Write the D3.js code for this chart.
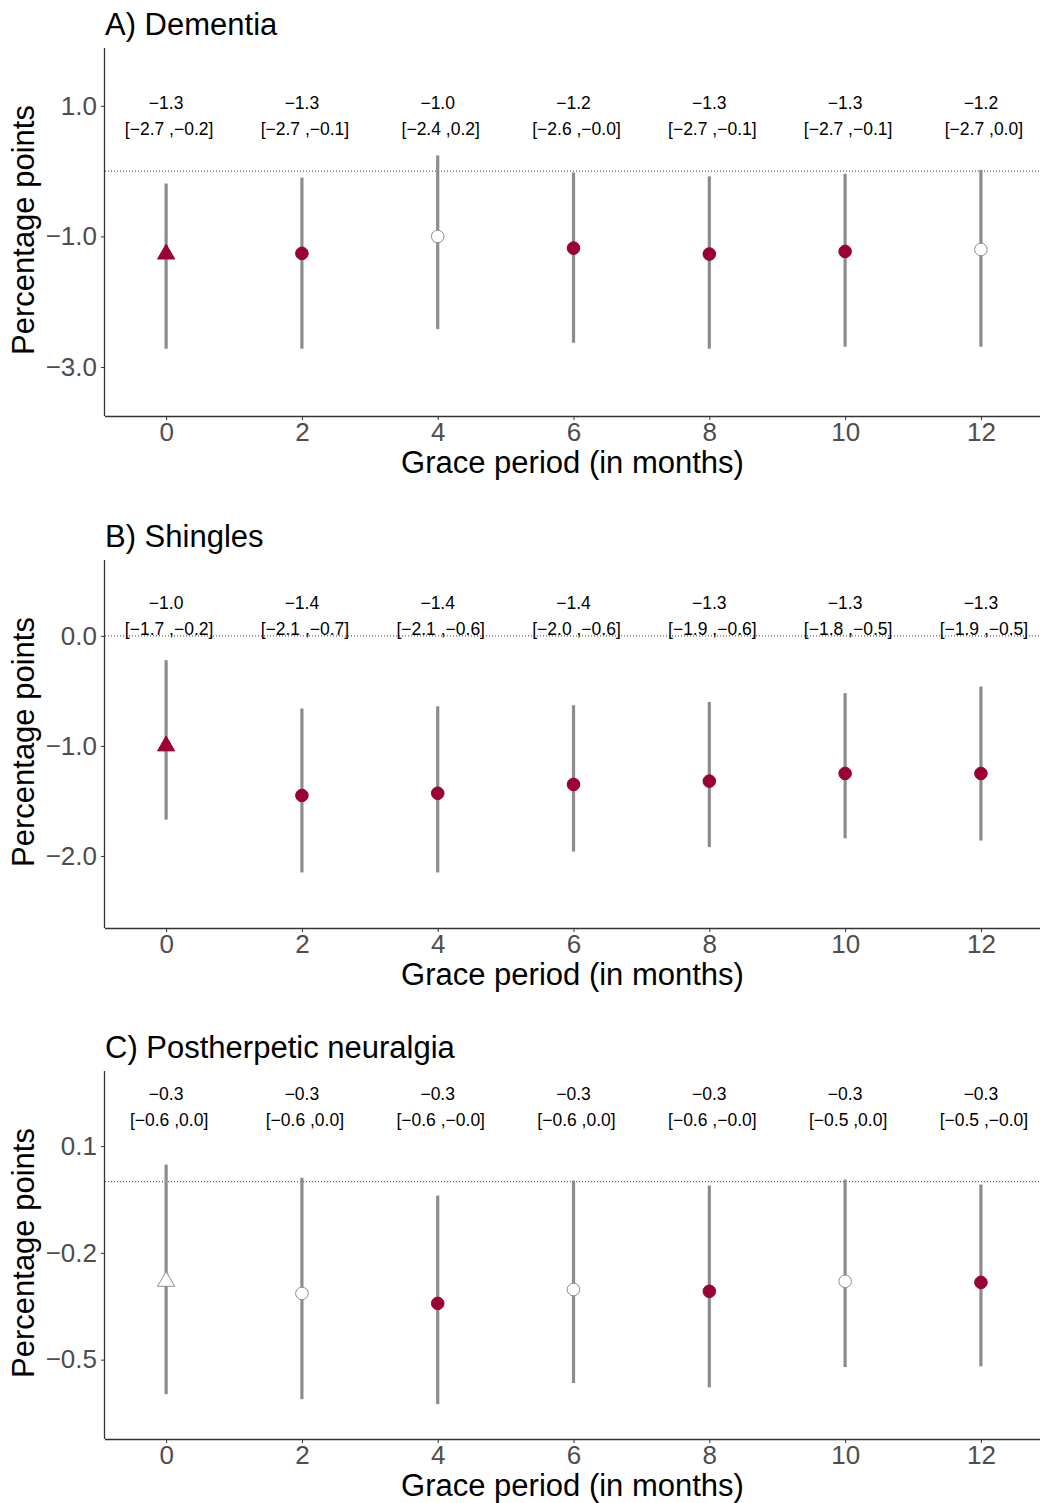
<!DOCTYPE html>
<html><head><meta charset="utf-8">
<script src="https://cdn.jsdelivr.net/npm/d3@7"></script>
<style>body{margin:0;background:#fff;} svg{display:block;font-family:"Liberation Sans",Arial,sans-serif;}</style>
</head><body>
<script>
const months = [0, 2, 4, 6, 8, 10, 12];
const xTicks = [0, 2, 4, 6, 8, 10, 12];

const titles = ["A) Dementia", "B) Shingles", "C) Postherpetic neuralgia"];

const estA = [-1.27, -1.26, -1.00, -1.18, -1.27, -1.23, -1.20];
const lowA = [-2.72, -2.72, -2.42, -2.63, -2.72, -2.69, -2.69];
const highA = [-0.19, -0.10, 0.24, -0.02, -0.08, -0.04, 0.02];
const sigA = [true, true, false, true, true, true, false];
const estLabA = ["−1.3", "−1.3", "−1.0", "−1.2", "−1.3", "−1.3", "−1.2"];
const ciLabA = ["[−2.7 ,−0.2]", "[−2.7 ,−0.1]", "[−2.4 ,0.2]", "[−2.6 ,−0.0]", "[−2.7 ,−0.1]", "[−2.7 ,−0.1]", "[−2.7 ,0.0]"];
const yTicksA = [1.0, -1.0, -3.0];
const yDomA = [-3.75, 1.885];
const labYA = [1.05, 0.65];

const estB = [-1.00, -1.45, -1.43, -1.35, -1.32, -1.25, -1.25];
const lowB = [-1.67, -2.15, -2.15, -1.96, -1.92, -1.84, -1.86];
const highB = [-0.22, -0.66, -0.64, -0.63, -0.60, -0.52, -0.46];
const sigB = [true, true, true, true, true, true, true];
const estLabB = ["−1.0", "−1.4", "−1.4", "−1.4", "−1.3", "−1.3", "−1.3"];
const ciLabB = ["[−1.7 ,−0.2]", "[−2.1 ,−0.7]", "[−2.1 ,−0.6]", "[−2.0 ,−0.6]", "[−1.9 ,−0.6]", "[−1.8 ,−0.5]", "[−1.9 ,−0.5]"];
const yTicksB = [0.0, -1.0, -2.0];
const yDomB = [-2.655, 0.69];
const labYB = [0.30, 0.064];

const estC = [-0.280, -0.314, -0.342, -0.303, -0.308, -0.280, -0.283];
const lowC = [-0.597, -0.611, -0.625, -0.566, -0.578, -0.521, -0.519];
const highC = [0.048, 0.011, -0.039, 0.003, -0.011, 0.006, -0.008];
const sigC = [false, false, true, false, true, false, true];
const estLabC = ["−0.3", "−0.3", "−0.3", "−0.3", "−0.3", "−0.3", "−0.3"];
const ciLabC = ["[−0.6 ,0.0]", "[−0.6 ,0.0]", "[−0.6 ,−0.0]", "[−0.6 ,0.0]", "[−0.6 ,−0.0]", "[−0.5 ,0.0]", "[−0.5 ,−0.0]"];
const yTicksC = [0.1, -0.2, -0.5];
const yDomC = [-0.723, 0.311];
const labYC = [0.247, 0.174];

const panels = [
  {title: titles[0], est: estA, low: lowA, high: highA, sig: sigA, estLab: estLabA, ciLab: ciLabA, yTicks: yTicksA, yDom: yDomA, labY: labYA, top: 48},
  {title: titles[1], est: estB, low: lowB, high: highB, sig: sigB, estLab: estLabB, ciLab: ciLabB, yTicks: yTicksB, yDom: yDomB, labY: labYB, top: 560},
  {title: titles[2], est: estC, low: lowC, high: highC, sig: sigC, estLab: estLabC, ciLab: ciLabC, yTicks: yTicksC, yDom: yDomC, labY: labYC, top: 1071}
];

const W = 1041, H = 1503;
const left = 105, right = 1040, ph = 368;
const red = "#9B0036";
const FONT = "Liberation Sans, Arial, sans-serif";
const svg = d3.select("body").append("svg").attr("width", W).attr("height", H);

const x = d3.scaleLinear().domain([-0.9, 12.87]).range([left, right]);

panels.forEach(p => {
  const top = p.top, bottom = top + ph;
  const y = d3.scaleLinear().domain(p.yDom).range([bottom, top]);
  const g = svg.append("g");

  // title
  g.append("text").attr("x", left).attr("y", top - 13)
    .attr("font-size", 31).attr("fill", "#000").text(p.title);

  // zero reference line
  g.append("line").attr("x1", left).attr("x2", right)
    .attr("y1", y(0)).attr("y2", y(0))
    .attr("stroke", "#222").attr("stroke-width", 0.9).attr("stroke-dasharray", "1,2");

  // axes
  const xAxis = d3.axisBottom(x).tickValues(xTicks).tickSize(4).tickPadding(3).tickFormat(d3.format("d"));
  const ga = g.append("g").attr("transform", `translate(0,${bottom})`).call(xAxis);
  ga.select(".domain").attr("d", `M${left},0.5H${right}`).attr("stroke", "#333").attr("stroke-width", 1.3);
  ga.selectAll(".tick line").attr("stroke", "#333");
  ga.selectAll(".tick text").attr("font-size", 26).attr("fill", "#4d4d4d").attr("font-family", FONT);

  const yAxis = d3.axisLeft(y).tickValues(p.yTicks).tickSize(4).tickPadding(4)
    .tickFormat(d => d3.format(".1f")(d).replace("-", "−"));
  const gy = g.append("g").attr("transform", `translate(${left},0)`).call(yAxis);
  gy.select(".domain").attr("d", `M-0.5,${top}V${bottom}`).attr("stroke", "#333").attr("stroke-width", 1.3);
  gy.selectAll(".tick line").attr("stroke", "#333");
  gy.selectAll(".tick text").attr("font-size", 26).attr("fill", "#4d4d4d").attr("font-family", FONT);

  // axis titles
  g.append("text").attr("x", (left + right) / 2).attr("y", bottom + 57)
    .attr("text-anchor", "middle").attr("font-size", 31).attr("fill", "#000")
    .text("Grace period (in months)");
  g.append("text").attr("transform", `translate(34,${(top + bottom) / 2 - 2}) rotate(-90)`)
    .attr("text-anchor", "middle").attr("font-size", 31).attr("fill", "#000")
    .text("Percentage points");

  // error bars
  g.selectAll(".eb").data(months).enter().append("line")
    .attr("x1", d => x(d)).attr("x2", d => x(d))
    .attr("y1", (d, i) => y(p.high[i])).attr("y2", (d, i) => y(p.low[i]))
    .attr("stroke", "#8c8c8c").attr("stroke-width", 3.2);

  // markers
  months.forEach((m, i) => {
    const fill = p.sig[i] ? red : "#fff";
    const stroke = p.sig[i] ? red : "#8c8c8c";
    if (i === 0) {
      g.append("path").attr("d", d3.symbol().type(d3.symbolTriangle).size(128)())
        .attr("transform", `translate(${x(m)},${y(p.est[i])})`)
        .attr("fill", fill).attr("stroke", stroke).attr("stroke-width", 1);
    } else {
      g.append("circle").attr("cx", x(m)).attr("cy", y(p.est[i])).attr("r", 6.3)
        .attr("fill", fill).attr("stroke", stroke).attr("stroke-width", 1);
    }
  });

  // annotations
  g.selectAll(".el").data(months).enter().append("text")
    .attr("x", d => x(d)).attr("y", y(p.labY[0])).attr("dy", "0.35em")
    .attr("text-anchor", "middle").attr("font-size", 17.5).attr("fill", "#000")
    .text((d, i) => p.estLab[i]);
  g.selectAll(".cl").data(months).enter().append("text")
    .attr("x", d => x(d) + 3).attr("y", y(p.labY[1])).attr("dy", "0.35em")
    .attr("text-anchor", "middle").attr("font-size", 17.5).attr("fill", "#000")
    .text((d, i) => p.ciLab[i]);
});
</script>
</body></html>
